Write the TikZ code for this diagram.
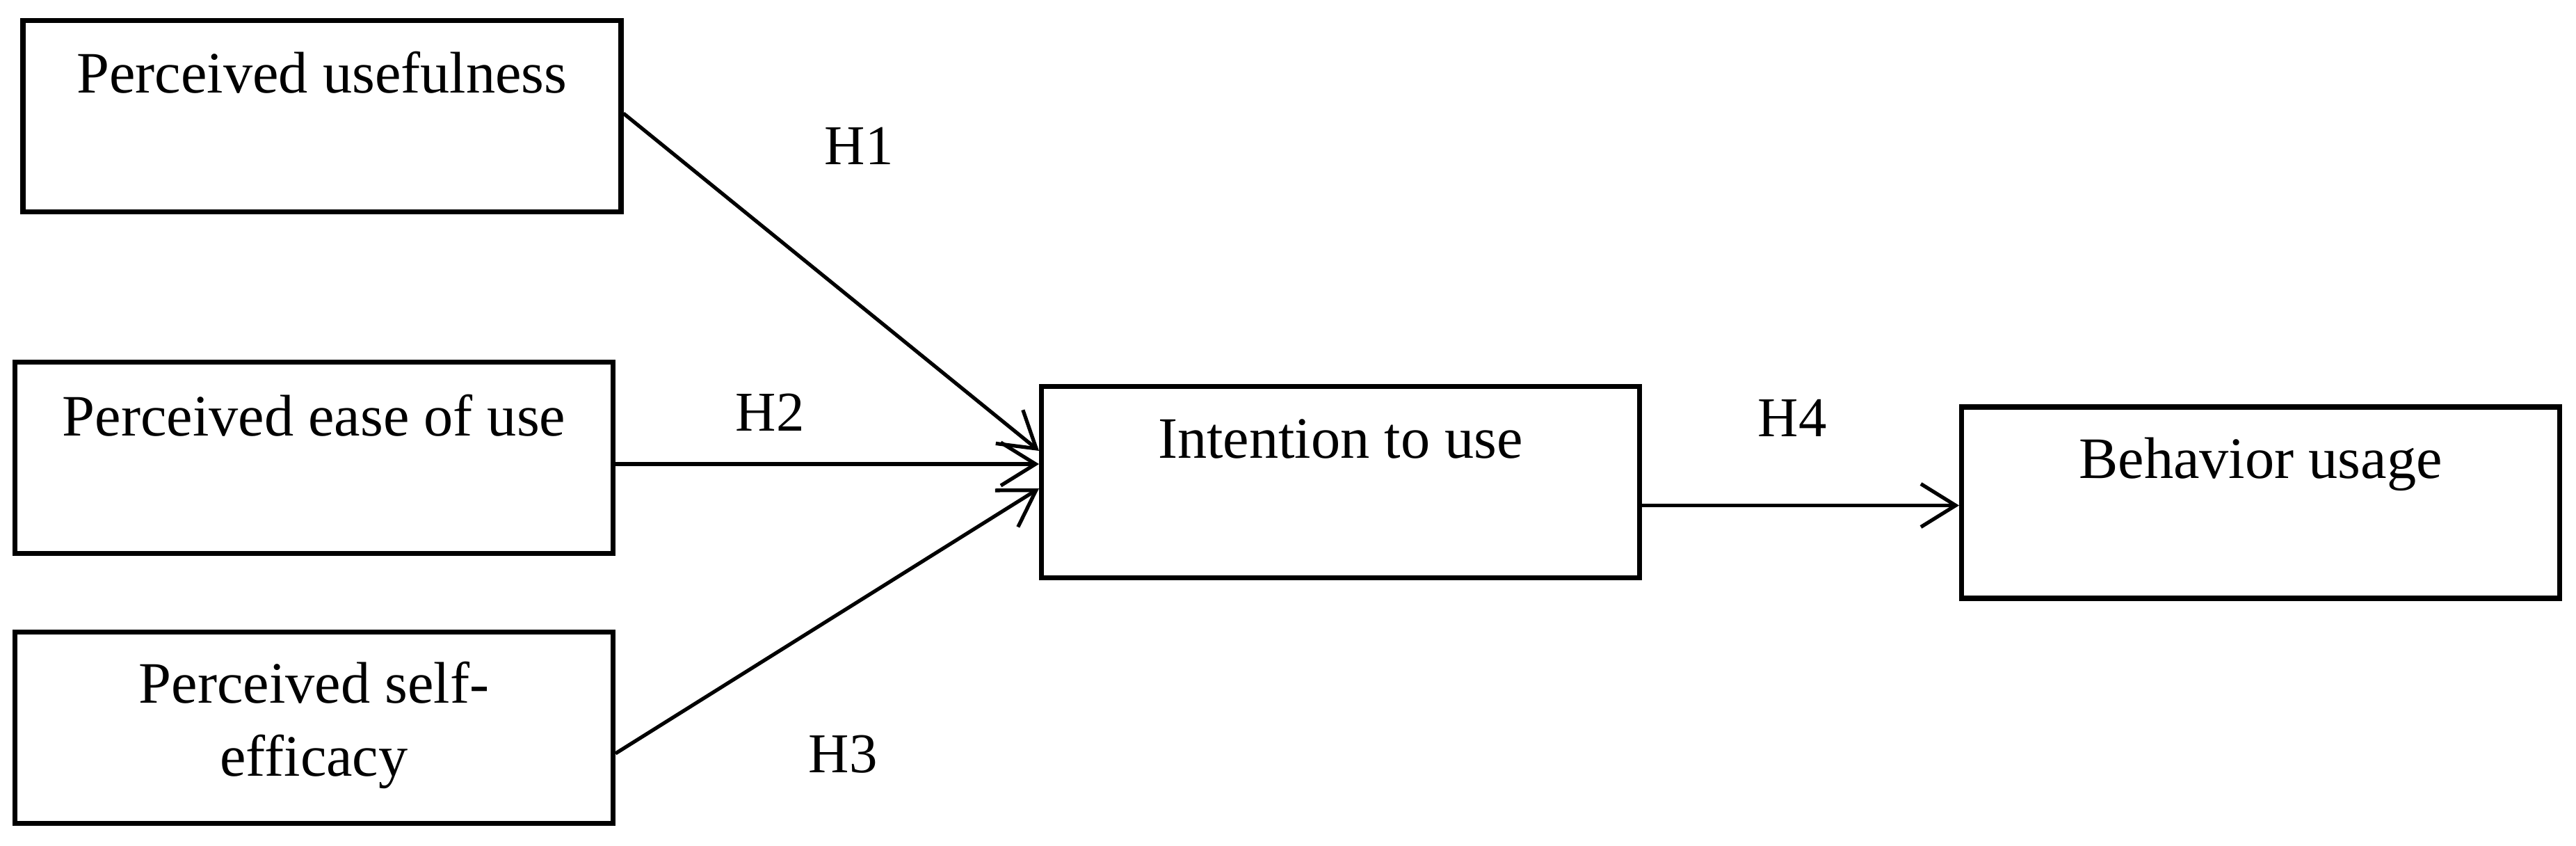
\documentclass[tikz,border=0pt]{standalone}
\usepackage{fontspec}
\setmainfont{Liberation Serif}
\usetikzlibrary{arrows.meta}

\begin{document}
\begin{tikzpicture}[
	b/.style = {rectangle, draw=black, line width=2pt, minimum width=8.6cm, minimum height=2.75cm, inner sep=0pt},
	l/.style = {anchor=base, inner sep=0pt, align=center, font=\fontsize{24}{30}\selectfont},
	h/.style = {anchor=base west, inner sep=0pt, font=\fontsize{23}{30}\selectfont},
	r/.style = {line width=1.5pt, -{Straight Barb[length=5mm, width=6.2mm]}}
	]
	
	\useasboundingbox (0, 0) rectangle (37.04, -12.16);
	
	% ===== ===== ===== ===== =====
	
	% Nodes
	\node[b]	(pu)	at	(4.63, -1.67)		{};
	\node[b]	(peou)	at	(4.515, -6.58)		{};
	\node[b]	(pse)	at	(4.515, -10.46)		{};
	\node[b]	(itu)	at	(19.275, -6.93)		{};
	\node[b]	(bu)	at	(32.505, -7.225)	{};
	
	\node[l]	(pu-t)	at	([yshift=-1.08cm]pu.north)		{Perceived usefulness};
	\node[l]	(peou-t)	at	([yshift=-1.10cm]peou.north)	{Perceived ease of use};
	\node[l]	(pse-t)	at	([yshift=-2.11cm]pse.north)		{Perceived self-\\efficacy};
	\node[l]	(itu-t)	at	([yshift=-1.07cm]itu.north)		{Intention to use};
	\node[l]	(bu-t)	at	([yshift=-1.06cm]bu.north)		{Behavior usage};
	
	\node[h]	(h1)	at	(11.85, -2.37)	{H1};
	\node[h]	(h2)	at	(10.57, -6.20)	{H2};
	\node[h]	(h3)	at	(11.62, -11.10)	{H3};
	\node[h]	(h4)	at	(25.27, -6.28)	{H4};
	
	
	
	% Lines
	\draw[r]	([yshift=0.04cm]pu.east)		to	([yshift=0.45cm]itu.west);
	\draw[r]	([yshift=-0.09cm]peou.east)		to	([yshift=-0.09cm]peou.east -| itu.west);
	\draw[r]	([yshift=-0.37cm]pse.east)		to	([yshift=-0.09cm]itu.west);
	\draw[r]	([yshift=-0.04cm]bu.west -| itu.east)	to	([yshift=-0.04cm]bu.west);
	
\end{tikzpicture}
\end{document}
